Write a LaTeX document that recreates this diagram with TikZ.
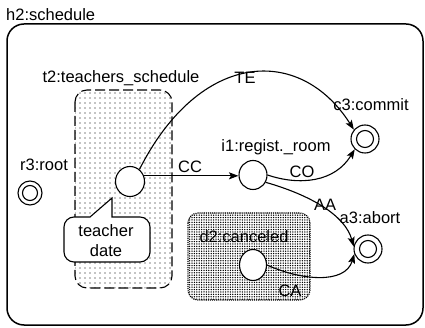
\documentclass[tikz,border=0pt]{standalone}
\usepackage{fontspec}
\setmainfont{Liberation Sans}
\usetikzlibrary{arrows.meta,patterns.meta,shapes.geometric}
\begin{document}
\begin{tikzpicture}[x=1pt,y=-1pt,
  lbl/.style={inner sep=0pt, font=\fontsize{16.5}{20}\selectfont},
  st/.style={ellipse, draw, fill=white, line width=1.1pt, inner sep=0pt},
  fin/.style={circle, draw, fill=white, line width=1.1pt, inner sep=0pt},
  tr/.style={line width=1.1pt, -{Stealth[length=9.5pt,width=7pt,inset=2pt]}},
  box/.style={line width=1.5pt, rounded corners=17pt},
]
\useasboundingbox (0,0) rectangle (425,328);
% outer state h2
\draw[box] (7,24) rectangle (423,325);
\node[lbl, anchor=west] (h2) at (6,15) {h2:schedule};
% t2 box
\draw[line width=1.1pt, dash pattern=on 10pt off 4pt, rounded corners=12pt,
      pattern={Dots[distance=5pt, radius=0.55pt]}] (75,90) rectangle (172,288);
\node[lbl] (t2) at (121,78) {t2:teachers\_schedule};
% d2 box
\draw[line width=1.1pt, densely dotted, rounded corners=10pt,
      pattern={Dots[distance=2.4pt, radius=0.75pt]}] (188,213) rectangle (310,300);
\node[lbl] (d2) at (244,237) {d2:canceled};
% root
\node[lbl] (r3) at (44,165) {r3:root};
\node[fin, minimum size=24pt] (r3s) at (30,193) {};
\draw[line width=1.1pt] (r3s.center) circle (7.5);
% states
\node[st, minimum width=29pt, minimum height=30pt] (ts) at (130,181.5) {};
\node[st, minimum width=28pt, minimum height=29pt] (i1s) at (253,175) {};
\node[lbl] (i1) at (276,147) {i1:regist.\_room};
\node[st, minimum width=27pt, minimum height=31pt] (d2s) at (253,265) {};
\node[fin, minimum size=28pt] (c3s) at (365,139) {};
\draw[line width=1.1pt] (c3s.center) circle (8.5);
\node[lbl] (c3) at (371,105) {c3:commit};
\node[fin, minimum size=28pt] (a3s) at (368,249) {};
\draw[line width=1.1pt] (a3s.center) circle (8.5);
\node[lbl] (a3) at (370,218) {a3:abort};
% callout
\draw[line width=1.1pt, fill=white] (112,198) -- (112,217) [rounded corners=10pt] -- (150,217) -- (150,262) -- (64,262) -- (64,217) [sharp corners] -- (90,217) -- cycle;
\node[lbl, align=center] (note) at (106,241) {teacher\\date};
% transitions
\draw[tr] (ts.52) .. controls (200,50) and (300,45) .. (c3s.140);
\node[lbl] (te) at (245,78) {TE};
\draw[tr] (ts.22) -- (ts.22 -| i1s.west);
\node[lbl] (cc) at (190,167) {CC};
\draw[tr] (i1s.east) .. controls (300,186) and (335,182) .. (c3s.225);
\node[lbl] (co) at (302,172) {CO};
\draw[tr] (i1s.-30) .. controls (310,195) and (345,215) .. (a3s.170);
\node[lbl] (aa) at (325,205) {AA};
\draw[tr] (d2s.east) .. controls (300,280) and (345,285) .. (a3s.200);
\node[lbl] (ca) at (290,291) {CA};
\end{tikzpicture}
\end{document}
